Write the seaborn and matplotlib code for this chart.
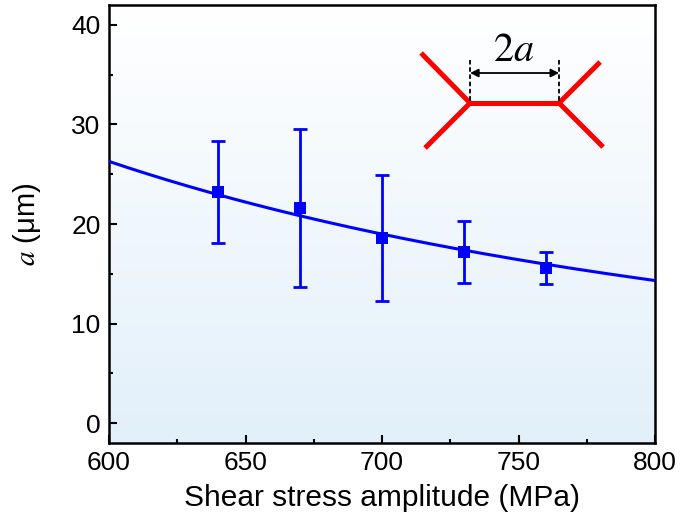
import numpy as np
import pandas as pd
import matplotlib
matplotlib.use("Agg")
import matplotlib.pyplot as plt
from matplotlib.colors import LinearSegmentedColormap
import seaborn as sns

# ---- data ----
stress = [640, 670, 700, 730, 760]            # MPa
a_mean = [23.2, 21.6, 18.6, 17.2, 15.6]       # um
a_err = [5.1, 7.9, 6.3, 3.1, 1.6]             # um

# points (used to fit a power law a = C * s^n)
curve_x = [600, 640, 670, 700, 730, 760, 800]
curve_y = [26.2, 23.1, 20.9, 18.9, 17.3, 15.9, 14.4]

x_ticks = [600, 650, 700, 750, 800]
y_ticks = [0, 10, 20, 30, 40]

sns.set_theme(style="ticks")
plt.rcParams["font.family"] = ["Liberation Sans", "DejaVu Sans"]
plt.rcParams["text.color"] = "black"
plt.rcParams["axes.labelcolor"] = "black"

fig = plt.figure(figsize=(6.81, 5.28), dpi=100)
ax = fig.add_axes([0.160, 0.161, 0.802, 0.8295])

# gradient background: white at top to light blue at bottom
cmap = LinearSegmentedColormap.from_list("bg", ["#ffffff", "#e2f0fa"])
grad = np.linspace(0, 1, 256).reshape(-1, 1)
ax.imshow(grad, cmap=cmap, extent=[600, 800, -2, 42], aspect="auto", zorder=0,
          origin="upper")

# fitted curve (power law fitted in log-log space to the read curve points)
coef = np.polyfit(np.log(curve_x), np.log(curve_y), 1)
xs = np.linspace(600, 800, 200)
fit_df = pd.DataFrame({"x": xs, "y": np.exp(np.polyval(coef, np.log(xs)))})
sns.lineplot(data=fit_df, x="x", y="y", ax=ax, color="#0000ff", lw=2.2, zorder=3)

# data points with error bars
df = pd.DataFrame({"s": stress, "a": a_mean, "e": a_err})
ax.errorbar(df["s"], df["a"], yerr=df["e"], fmt="none", ecolor="#0000ff",
            elinewidth=2.0, capsize=5, capthick=2.0, zorder=4)
sns.scatterplot(data=df, x="s", y="a", ax=ax, marker="s", s=80, color="#0000ff",
                edgecolor="#0000ff", linewidth=0, zorder=5)

ax.set_xlim(600, 800)
ax.set_ylim(-2, 42)
ax.set_xticks(x_ticks)
ax.set_yticks(y_ticks)
ax.set_xticks([625, 675, 725, 775], minor=True)
ax.set_yticks([5, 15, 25, 35], minor=True)
ax.tick_params(axis="both", which="major", direction="in", length=6, width=1.5,
               labelsize=19, colors="black", pad=6, top=False, right=False)
ax.tick_params(axis="both", which="minor", direction="in", length=3, width=1.5,
               colors="black", top=False, right=False)
for sp in ax.spines.values():
    sp.set_visible(True)
    sp.set_linewidth(1.8)
    sp.set_color("black")

ax.set_xlabel("Shear stress amplitude (MPa)", fontsize=21.5, labelpad=6,
              color="black")
ax.set_ylabel(r"$a$ (μm)", fontsize=21, math_fontfamily="stix", labelpad=20,
              color="black")

# schematic inset (axes-fraction coordinates)
def fx(px):
    return (px - 109) / 546

def fy(py):
    return (443 - py) / 438

red_kw = dict(color="#ff0000", lw=3.6, transform=ax.transAxes, zorder=6,
              solid_capstyle="butt")
ax.plot([fx(421), fx(470), fx(425)], [fy(53), fy(103), fy(148)], **red_kw)
ax.plot([fx(470), fx(559)], [fy(103), fy(103)], **red_kw)
ax.plot([fx(600), fx(559), fx(603)], [fy(62), fy(103), fy(147)], **red_kw)
for px in (470, 559):
    ax.plot([fx(px), fx(px)], [fy(60), fy(101)], color="black", lw=1.3,
            ls=(0, (2.5, 1.5)), transform=ax.transAxes, zorder=7)
ax.annotate("", xy=(fx(470), fy(73)), xytext=(fx(559), fy(73)),
            xycoords="axes fraction", textcoords="axes fraction",
            arrowprops=dict(arrowstyle="<|-|>", color="black", lw=1.3,
                            mutation_scale=12, shrinkA=0, shrinkB=0), zorder=7)
ax.text(fx(514), fy(50), r"$2a$", transform=ax.transAxes, fontsize=29,
        math_fontfamily="stix", ha="center", va="center", color="black", zorder=7)

fig.savefig("out.png", dpi=100)
